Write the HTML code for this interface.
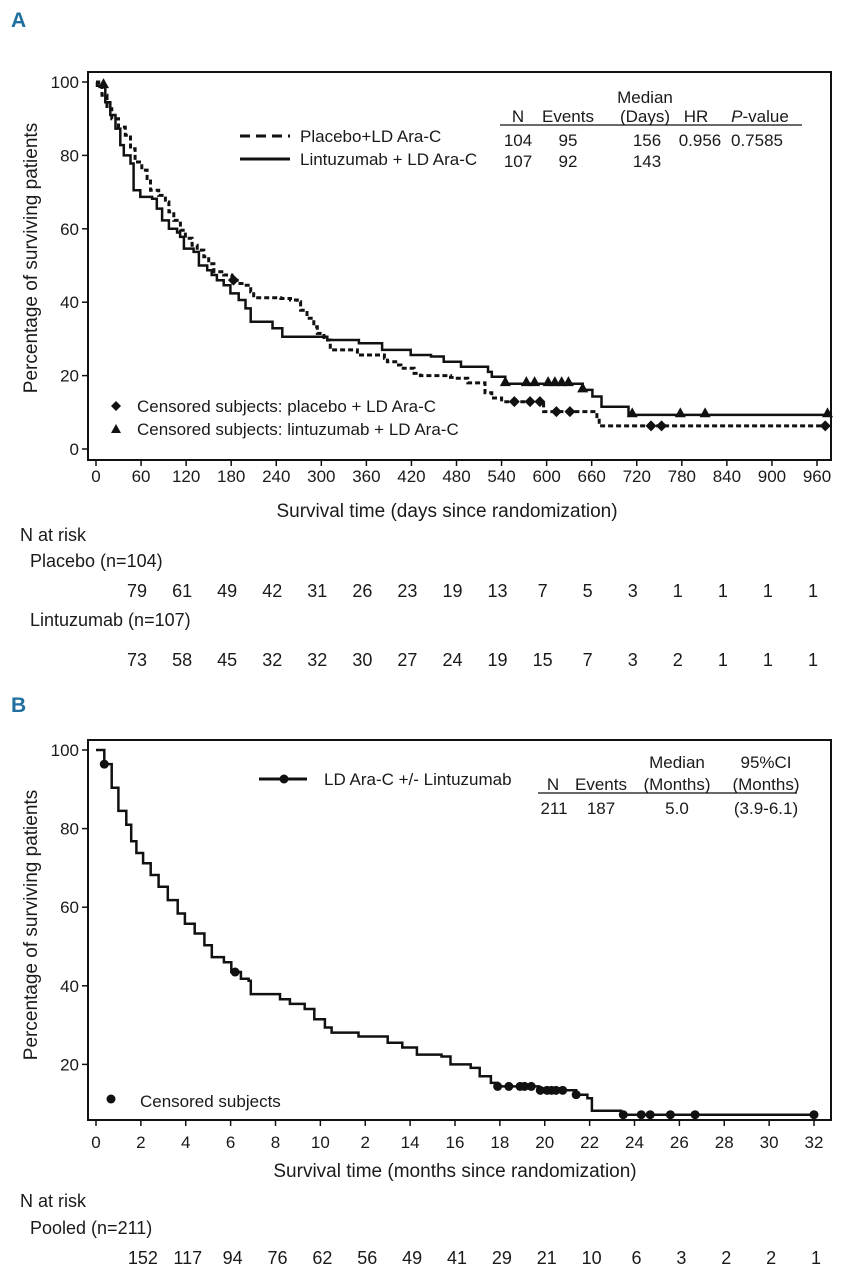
<!DOCTYPE html>
<html><head><meta charset="utf-8">
<style>
html,body{margin:0;padding:0;background:#fff;}
svg{display:block;font-family:"Liberation Sans Narrow","Liberation Sans",sans-serif;}
text{fill:#1a1a1a;}
</style></head>
<body>
<svg id="fig" width="841" height="1280" viewBox="0 0 841 1280" xmlns="http://www.w3.org/2000/svg">
</svg>
<script>
// ---------- Panel A data ----------
const aTicksX = [0,60,120,180,240,300,360,420,480,540,600,660,720,780,840,900,960];
const aTicksY = [0,20,40,60,80,100];
const placeboT = [3.6,8,14.7,21,30,39,46,52,61,68,72.5,83.5,92.4,97,103.6,112.4,119,128,134.7,143.6,150,157,170,181,188,197,206,210,246,259,268,272.4,281,290,294.7,303.6,312,348,384,388,399,406,423.6,432,472,479,495,518,527,540,596,667,670];
const placeboS = [99,96.4,92.7,90,87.7,85.5,81.8,78.2,76,73.7,70.5,69.1,67.3,64.6,62.3,59.6,57.4,55.5,54.2,52.4,50.5,48.3,47.4,46,45.1,44.6,42.8,41.2,41,40.6,40.1,37.8,35.6,33.3,31.5,29.7,27,25.6,24.7,23.8,22.9,22,20.6,20,19.5,19.3,18,15.3,13.9,12.9,10.2,8.4,6.3];
const placeboCensT = [183,557,578,591,613,631,739,753,971];
const lintT = [1.3,12.4,19,26,32.4,37,46,50,59,74.7,81,88,97,108,112,117,130,137,148,154,161,170,179,190,199,206,235,248,299,308,350,381,419,446,463,486,522,527,545,648,661,673,709];
const lintS = [99,94.5,91,87.3,82.8,80,77.8,70.5,68.7,68.2,65.5,62.3,60,59,57.8,54.6,53.7,50,48.7,47.4,46,44.6,42.4,40.6,38.3,34.7,32.9,30.6,30.6,29.7,28.8,27,25.6,25.2,23.8,22.4,21,19.7,17.8,16.1,14.3,11.5,9.3];
const lintCensT = [10,545,573,584,602,611,620,629,648,714,778,811,974];
const riskPlacebo = [79,61,49,42,31,26,23,19,13,7,5,3,1,1,1,1];
const riskLint = [73,58,45,32,32,30,27,24,19,15,7,3,2,1,1,1];
// ---------- Panel B data ----------
const bTicksX = [0,2,4,6,8,10,2,14,16,18,20,22,24,26,28,30,32];
const bTicksY = [20,40,60,80,100];
const pooledT = [0.37,0.7,1.0,1.35,1.57,1.8,2.1,2.44,2.79,3.2,3.64,3.96,4.4,4.83,5.16,5.7,6.03,6.46,6.8,6.9,7.77,8.2,8.64,9.3,9.73,10.2,10.5,11.7,13.0,13.65,14.3,15.4,15.8,16.7,17.1,17.6,17.9,19.75,21.4,21.9,22.1,23.4];
const pooledS = [96.4,90.4,84.5,81,76.8,73.8,71.2,68.2,65.2,61.8,58.4,55.8,53.3,50.3,47.3,46,43.5,41.8,41.3,37.9,37.9,36.6,35.4,34.1,31.5,29.4,28.1,27.1,25.5,24.3,22.5,22,20,19.1,17,15.3,14.4,13.4,12.3,11.4,8.2,7.2];
const pooledCensT = [0.37,6.2,17.9,18.4,18.9,19.1,19.4,19.8,20.1,20.3,20.5,20.8,21.4,23.5,24.3,24.7,25.6,26.7,32];
const riskPooled = [152,117,94,76,62,56,49,41,29,21,10,6,3,2,2,1];

const NS="http://www.w3.org/2000/svg";
const svg=document.getElementById('fig');
function el(tag,attrs,parent){const e=document.createElementNS(NS,tag);for(const k in attrs)e.setAttribute(k,attrs[k]);(parent||svg).appendChild(e);return e;}
function txt(s,x,y,size,anchor,parent,extra){const t=el('text',Object.assign({x:x,y:y,'font-size':size,'text-anchor':anchor||'start'},extra||{}),parent);t.textContent=s;return t;}

// scales
const axA=d=>96+d*(817-96)/960, ayA=p=>449-p*3.67;
const axB=m=>96+m*(814-96)/32, ayB=p=>1143-p*3.93;

function stepPath(T,S,xs,ys,xEnd){let d='M'+xs(0)+','+ys(100);for(let i=0;i<T.length;i++){d+=' H'+xs(T[i]).toFixed(1)+' V'+ys(S[i]).toFixed(1);}d+=' H'+xs(xEnd).toFixed(1);return d;}
function survAt(T,S,t){let s=100;for(let i=0;i<T.length;i++){if(T[i]<=t)s=S[i];}return s;}

// ---------- Panel A ----------
const gA=el('g',{});


let lab=txt('A',11,27,21,'start',gA,{'font-weight':'bold'});lab.setAttribute('fill','#1f6f9f');lab.style.fill='#1f6f9f';

let box=el('rect',{x:88,y:72,width:743,height:388,fill:'none',stroke:'#111','stroke-width':2},gA);

aTicksY.forEach(v=>{const y=ayA(v);el('line',{x1:82,x2:88,y1:y,y2:y,stroke:'#111','stroke-width':1.5},gA);const t=txt(String(v),79,y+6,17,'end',gA);});
aTicksX.forEach(v=>{const x=axA(v);el('line',{x1:x,x2:x,y1:460,y2:466,stroke:'#111','stroke-width':1.5},gA);const t=txt(String(v),x,482,17,'middle',gA);});
let yt=txt('Percentage of surviving patients',0,0,19,'middle',gA,{transform:'translate(37,258) rotate(-90)'});

let xt=txt('Survival time (days since randomization)',447,517,19,'middle',gA);

let pP=el('path',{d:stepPath(placeboT,placeboS,axA,ayA,971),fill:'none',stroke:'#111','stroke-width':3,'stroke-dasharray':'5,3'},gA);

let pL=el('path',{d:stepPath(lintT,lintS,axA,ayA,975),fill:'none',stroke:'#111','stroke-width':2.5},gA);

function diamond(x,y,r,g){return el('path',{d:`M${x},${y-r} L${x+r},${y} L${x},${y+r} L${x-r},${y} Z`,fill:'#111'},g);}
function tri(x,y,r,g){return el('path',{d:`M${x},${y-r} L${x+r},${y+r*0.8} L${x-r},${y+r*0.8} Z`,fill:'#111'},g);}
placeboCensT.forEach(t=>{const m=diamond(axA(t),ayA(survAt(placeboT,placeboS,t)),5.5,gA);});
lintCensT.forEach(t=>{const m=tri(axA(t),ayA(survAt(lintT,lintS,t))-2,5.5,gA);});
// legend A
const lgA=el('g',{},gA);
el('line',{x1:240,x2:290,y1:136,y2:136,stroke:'#111','stroke-width':3,'stroke-dasharray':'10,6'},lgA);
txt('Placebo+LD Ara-C',300,142,17,'start',lgA);
el('line',{x1:240,x2:290,y1:159,y2:159,stroke:'#111','stroke-width':3},lgA);
txt('Lintuzumab + LD Ara-C',300,165,17,'start',lgA);
const tbA=el('g',{},gA);
txt('Median',645,103,17,'middle',tbA);
txt('N',518,122,17,'middle',tbA);txt('Events',568,122,17,'middle',tbA);txt('(Days)',645,122,17,'middle',tbA);txt('HR',696,122,17,'middle',tbA);
let pv=txt('',760,122,17,'middle',tbA);pv.innerHTML='<tspan font-style="italic">P</tspan>-value';
el('line',{x1:500,x2:802,y1:125,y2:125,stroke:'#111','stroke-width':1.2},tbA);
[['104','95','156','0.956','0.7585'],['107','92','143','','']].forEach((r,i)=>{const y=146+i*21;txt(r[0],518,y,17,'middle',tbA);txt(r[1],568,y,17,'middle',tbA);txt(r[2],647,y,17,'middle',tbA);txt(r[3],700,y,17,'middle',tbA);txt(r[4],757,y,17,'middle',tbA);});
const clA=el('g',{},gA);
diamond(116,406,5,clA);txt('Censored subjects: placebo + LD Ara-C',137,412,17,'start',clA);
tri(116,429,5,clA);txt('Censored subjects: lintuzumab + LD Ara-C',137,435,17,'start',clA);
// risk table A
const rA=el('g',{},gA);
txt('N at risk',20,541,18,'start',rA);txt('Placebo (n=104)',30,567,18,'start',rA);
riskPlacebo.forEach((v,i)=>txt(String(v),axA(60*(i+1))-4,597,18,'middle',rA));
txt('Lintuzumab (n=107)',30,626,18,'start',rA);
riskLint.forEach((v,i)=>txt(String(v),axA(60*(i+1))-4,666,18,'middle',rA));

// ---------- Panel B ----------
const gB=el('g',{});


let labB=txt('B',11,712,21,'start',gB,{'font-weight':'bold'});labB.style.fill='#1f6f9f';

let boxB=el('rect',{x:88,y:740,width:743,height:380,fill:'none',stroke:'#111','stroke-width':2},gB);

bTicksY.forEach(v=>{const y=ayB(v);el('line',{x1:82,x2:88,y1:y,y2:y,stroke:'#111','stroke-width':1.5},gB);const t=txt(String(v),79,y+6,17,'end',gB);});
bTicksX.forEach((v,i)=>{const x=axB(i*2);el('line',{x1:x,x2:x,y1:1120,y2:1126,stroke:'#111','stroke-width':1.5},gB);const t=txt(String(v),x,1148,17,'middle',gB);});
let ytB=txt('Percentage of surviving patients',0,0,19,'middle',gB,{transform:'translate(37,925) rotate(-90)'});

let xtB=txt('Survival time (months since randomization)',455,1177,19,'middle',gB);

let pB=el('path',{d:stepPath(pooledT,pooledS,axB,ayB,32),fill:'none',stroke:'#111','stroke-width':2.5},gB);

pooledCensT.forEach(t=>{const c=el('circle',{cx:axB(t),cy:ayB(survAt(pooledT,pooledS,t)),r:4.5,fill:'#111'},gB);});
const lgB=el('g',{},gB);
el('line',{x1:259,x2:307,y1:779,y2:779,stroke:'#111','stroke-width':3},lgB);
el('circle',{cx:284,cy:779,r:4.5,fill:'#111'},lgB);
txt('LD Ara-C +/- Lintuzumab',324,785,17,'start',lgB);
const tbB=el('g',{},gB);
txt('Median',677,768,17,'middle',tbB);txt('95%CI',766,768,17,'middle',tbB);
txt('N',553,790,17,'middle',tbB);txt('Events',601,790,17,'middle',tbB);txt('(Months)',677,790,17,'middle',tbB);txt('(Months)',766,790,17,'middle',tbB);
el('line',{x1:538,x2:797,y1:793,y2:793,stroke:'#111','stroke-width':1.2},tbB);
txt('211',554,814,17,'middle',tbB);txt('187',601,814,17,'middle',tbB);txt('5.0',677,814,17,'middle',tbB);txt('(3.9-6.1)',766,814,17,'middle',tbB);
const clB=el('g',{},gB);
el('circle',{cx:111,cy:1099,r:4.5,fill:'#111'},clB);txt('Censored subjects',140,1107,17,'start',clB);
const rB=el('g',{},gB);
txt('N at risk',20,1207,18,'start',rB);txt('Pooled (n=211)',30,1234,18,'start',rB);
riskPooled.forEach((v,i)=>txt(String(v),axB(2*(i+1))+2,1264,18,'middle',rB));
</script>
</body></html>
